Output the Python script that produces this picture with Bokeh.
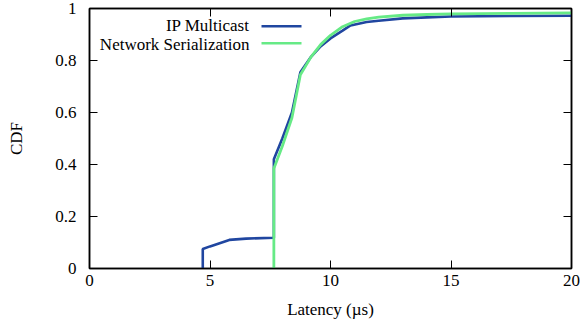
from bokeh.plotting import figure
from bokeh.models import LinearAxis, FixedTicker, Label, BoxAnnotation, Range1d
from bokeh.embed import file_html
from bokeh.resources import INLINE

# ---- data ----
series_names = ["IP Multicast", "Network Serialization"]
ip_x = [4.7, 4.7, 5.0, 5.8, 6.5, 7.65, 7.65, 8.0, 8.4, 8.75, 9.2, 9.6, 10.0, 10.5, 10.83, 11.5, 12.0, 13.0, 14.0, 15.0, 17.5, 20.0]
ip_y = [0.0, 0.075, 0.085, 0.11, 0.115, 0.118, 0.42, 0.50, 0.60, 0.755, 0.815, 0.855, 0.885, 0.915, 0.935, 0.948, 0.953, 0.962, 0.966, 0.969, 0.971, 0.972]
ns_x = [7.65, 7.65, 8.0, 8.4, 8.75, 9.2, 9.6, 10.0, 10.5, 11.0, 11.5, 12.0, 13.0, 14.0, 15.0, 17.5, 20.0]
ns_y = [0.0, 0.385, 0.47, 0.58, 0.745, 0.815, 0.862, 0.897, 0.93, 0.95, 0.96, 0.967, 0.974, 0.977, 0.979, 0.981, 0.983]
x_ticks = [0, 5, 10, 15, 20]
x_tick_labels = ["0", "5", "10", "15", "20"]
y_ticks = [0, 0.2, 0.4, 0.6, 0.8, 1.0]
y_tick_labels = ["0", "0.2", "0.4", "0.6", "0.8", "1"]

BLUE = "#2046a0"
GREEN = "#66ea86"
FONT = "Times New Roman, Liberation Serif, serif"
FS = "17px"

W, H = 582, 327
p = figure(width=W, height=H, output_backend="svg", toolbar_location=None,
           x_range=Range1d(0, 20), y_range=Range1d(0, 1),
           min_border_left=89, min_border_right=11, min_border_top=8, min_border_bottom=59,
           x_axis_label="Latency (µs)", y_axis_label="CDF")
p.background_fill_color = "white"
p.border_fill_color = "white"
p.grid.visible = False
p.outline_line_color = "black"
p.outline_line_width = 1.5

for ax, ticks, labels in ((p.xaxis[0], x_ticks, x_tick_labels), (p.yaxis[0], y_ticks, y_tick_labels)):
    ax.ticker = FixedTicker(ticks=ticks)
    ax.major_label_overrides = {t: l for t, l in zip(ticks, labels)}
    ax.major_tick_in = 8
    ax.major_tick_out = 0
    ax.minor_tick_line_color = None
    ax.major_tick_line_color = "black"
    ax.axis_line_color = "black"
    ax.axis_line_width = 1.5
    ax.major_label_text_font = FONT
    ax.major_label_text_font_size = FS
    ax.major_label_text_color = "black"
    ax.axis_label_text_font = FONT
    ax.axis_label_text_font_size = FS
    ax.axis_label_text_font_style = "normal"
    ax.axis_label_text_color = "black"

p.xaxis[0].major_label_standoff = 6
p.xaxis[0].axis_label_standoff = 11
p.yaxis[0].major_label_standoff = 13
p.yaxis[0].axis_label_standoff = 26

# mirrored ticks on top and right
for loc, ticks in (("above", x_ticks), ("right", y_ticks)):
    ax = LinearAxis(ticker=FixedTicker(ticks=ticks), major_tick_in=8, major_tick_out=0,
                    minor_tick_line_color=None, major_label_text_color=None,
                    major_label_text_font_size="1px",
                    major_label_standoff=0, axis_line_color="black", axis_line_width=1.5)
    p.add_layout(ax, loc)

p.line(ip_x, ip_y, line_color=BLUE, line_width=2.6)
p.line(ns_x, ns_y, line_color=GREEN, line_width=2.8)

# gnuplot-style key: text right-aligned, sample line to the right (frame-relative screen units)
key_text_right = 160
key_text_rows = [243, 224]
key_line_rows = [242.3, 225.3]
for name, col, ty, ly in zip(series_names, [BLUE, GREEN], key_text_rows, key_line_rows):
    p.add_layout(Label(x=key_text_right, y=ty, x_units="screen", y_units="screen", text=name,
                       text_align="right", text_baseline="middle", text_font=FONT,
                       text_font_size=FS, text_color="black"))
    p.add_layout(BoxAnnotation(left=172, right=212, bottom=ly - 1.3, top=ly + 1.3,
                               left_units="screen", right_units="screen",
                               bottom_units="screen", top_units="screen",
                               fill_color=col, fill_alpha=1, line_color=None))

open("out.html", "w").write(file_html(p, INLINE))
